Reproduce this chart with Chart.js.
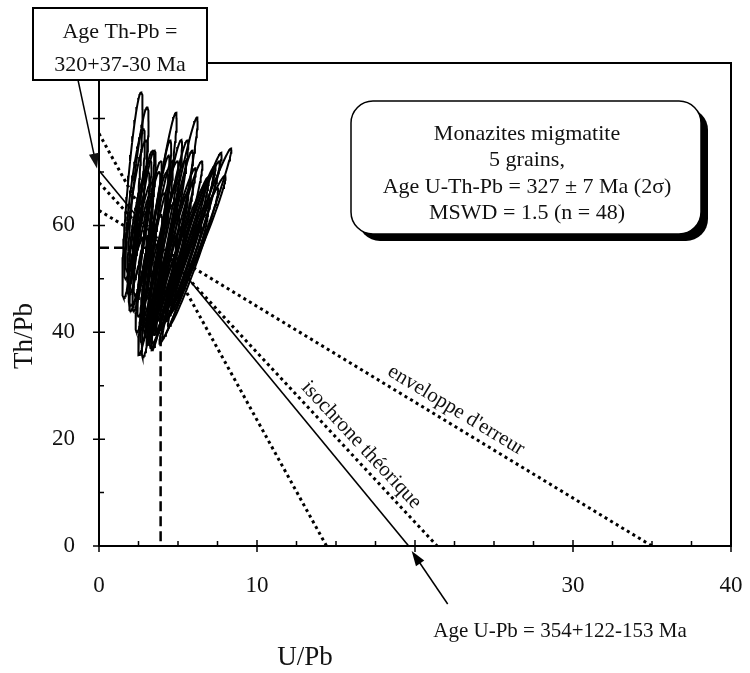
<!DOCTYPE html>
<html>
<head>
<meta charset="utf-8">
<script src="https://cdn.jsdelivr.net/npm/chart.js@4/dist/chart.umd.min.js"></script>
<style>
  html, body { margin: 0; padding: 0; background: #fff; }
  canvas { display: block; }
</style>
</head>
<body>
<canvas id="chart" width="750" height="673"></canvas>
<script>
// Data (U/Pb vs Th/Pb, 2 sigma error ellipses)

const uPb   = [2.12, 2.47, 2.37, 2.63, 2.25, 2.5, 3.7, 4.78, 3.64, 4.56, 4.02, 4.0, 4.45, 3.5, 4.15, 3.95, 4.75, 3.5,
               6.1, 5.89, 5.6, 5.2, 6.39, 5.25, 5.75, 5.2, 5.95, 4.7, 2.85, 3.1, 2.8, 3.2, 2.8, 3.55, 3.35, 4.5,
               5.4, 4.05, 2.45, 5.85, 5.7, 3.75, 4.4, 4.05, 2.65, 5.6, 4.2, 6.1];
const thPb  = [65.65, 65.45, 63.75, 62.6, 64, 58.5, 58.4, 58.4, 55.6, 54.15, 56.25, 53.5, 53.5, 56, 57, 54, 57, 56,
               56.15, 56.25, 55.8, 54.85, 57.65, 58, 55, 55, 54, 53.75, 59, 55, 56.5, 57.5, 62, 55.5, 51.5, 50,
               51.5, 47.5, 51.5, 54.5, 56, 56, 57.5, 60, 56, 56, 50, 58];
const errU  = [0.644, 0.669, 0.695, 0.695, 0.652, 0.695, 1.221, 1.463, 0.929, 1.56, 1.463, 1.059, 1.202, 0.873, 1.107, 0.828, 1.202, 0.695,
               2.277, 1.873, 1.775, 1.54, 1.618, 1.298, 1.298, 1.059, 1.589, 1.25, 0.738, 0.783, 0.61, 0.783, 0.695, 0.919, 0.652, 0.873,
               1.059, 0.828, 0.57, 1.012, 1.54, 0.919, 1.25, 0.966, 0.738, 1.346, 0.873, 1.54];
const errTh = [19.25, 16.65, 12.15, 9.5, 14, 11.5, 22.7, 21.8, 20.3, 16.55, 15.85, 14.5, 12.5, 14, 19, 10, 17, 10,
               18.25, 17.35, 15.4, 12.65, 11.65, 14, 10, 8, 13, 14.25, 15, 15, 9.5, 14.5, 12, 17.5, 10.5, 10,
               8.5, 10.5, 6.5, 7.5, 14, 16, 18.5, 12, 12, 13, 12, 14];
const rho   = [0.839, 0.852, 0.864, 0.864, 0.844, 0.864, 0.958, 0.971, 0.926, 0.974, 0.971, 0.944, 0.957, 0.916, 0.949, 0.906, 0.957, 0.864,
               0.988, 0.982, 0.98, 0.974, 0.976, 0.963, 0.963, 0.944, 0.975, 0.96, 0.88, 0.894, 0.819, 0.894, 0.864, 0.925, 0.844, 0.916,
               0.944, 0.906, 0.789, 0.938, 0.974, 0.925, 0.96, 0.932, 0.88, 0.966, 0.916, 0.974];

// theoretical isochron and error envelope (U/Pb, Th/Pb end points)
const isoU = [0, 19.6];
const isoTh = [70.3, 0];
const envSteepU = [0, 14.4];
const envSteepTh = [77.2, 0];
const envMidU = [0, 21.4];
const envMidTh = [68, 0];
const envFlatU = [0, 35];
const envFlatTh = [62.8, 0];

// dashed reference point
const refU = [0, 3.9, 3.9];
const refTh = [55.8, 55.8, 0];

// axes
const xTickLabels = [0, 10, 30, 40];
const yTickLabels = [0, 20, 40, 60];
const xMajor = [0, 10, 20, 30, 40];
const xMinor = [2.5, 5, 7.5, 12.5, 15, 17.5, 22.5, 25, 27.5, 32.5, 35, 37.5];
const yMajor = [0, 20, 40, 60, 80];
const yMinor = [10, 30, 50, 70];

const serif = '"Liberation Serif", "DejaVu Serif", serif';

// Building datasets

function ellipsePoints(i) {
    let pts = [];
    let k = Math.sqrt(1 - rho[i] * rho[i]);
    for (let s = 0; s <= 90; s++) {
        let t = s / 90 * Math.PI * 2;
        pts.push({
            x: uPb[i] + errU[i] * Math.cos(t),
            y: thPb[i] + errTh[i] * (rho[i] * Math.cos(t) + k * Math.sin(t))
        });
    }
    return pts;
}

function toPoints(xs, ys) {
    return xs.map((v, i) => ({x: v, y: ys[i]}));
}

const lineStyle = {showLine: true, pointRadius: 0, borderColor: '#000', fill: false, tension: 0};

let datasets = [
    Object.assign({data: toPoints(isoU, isoTh), borderWidth: 1.6}, lineStyle),
    Object.assign({data: toPoints(envSteepU, envSteepTh), borderWidth: 3, borderDash: [3, 3.5]}, lineStyle),
    Object.assign({data: toPoints(envMidU, envMidTh), borderWidth: 3, borderDash: [3, 3.5]}, lineStyle),
    Object.assign({data: toPoints(envFlatU, envFlatTh), borderWidth: 3, borderDash: [3, 3.5]}, lineStyle),
    Object.assign({data: toPoints(refU, refTh), borderWidth: 2.5, borderDash: [10, 5]}, lineStyle)
];

uPb.forEach((v, i) => {
    datasets.push(Object.assign({data: ellipsePoints(i), borderWidth: 2}, lineStyle));
});

// Drawing frame, ticks and annotations

function arrow(ctx, x1, y1, x2, y2) {
    let ang = Math.atan2(y2 - y1, x2 - x1);
    ctx.beginPath();
    ctx.moveTo(x1, y1);
    ctx.lineTo(x2 - 10 * Math.cos(ang), y2 - 10 * Math.sin(ang));
    ctx.lineWidth = 1.5;
    ctx.stroke();
    ctx.beginPath();
    ctx.moveTo(x2, y2);
    ctx.lineTo(x2 - 15 * Math.cos(ang) + 5 * Math.sin(ang), y2 - 15 * Math.sin(ang) - 5 * Math.cos(ang));
    ctx.lineTo(x2 - 15 * Math.cos(ang) - 5 * Math.sin(ang), y2 - 15 * Math.sin(ang) + 5 * Math.cos(ang));
    ctx.closePath();
    ctx.fill();
}

function roundRect(ctx, x, y, w, h, r) {
    ctx.beginPath();
    ctx.moveTo(x + r, y);
    ctx.arcTo(x + w, y, x + w, y + h, r);
    ctx.arcTo(x + w, y + h, x, y + h, r);
    ctx.arcTo(x, y + h, x, y, r);
    ctx.arcTo(x, y, x + w, y, r);
    ctx.closePath();
}

function alongLine(ctx, x, y, xs, ys, text, u, t) {
    let ang = Math.atan2(y.getPixelForValue(ys[1]) - y.getPixelForValue(ys[0]),
                         x.getPixelForValue(xs[1]) - x.getPixelForValue(xs[0]));
    ctx.save();
    ctx.translate(x.getPixelForValue(u), y.getPixelForValue(t));
    ctx.rotate(ang);
    ctx.fillText(text, 0, 0);
    ctx.restore();
}

const decor = {
    id: 'decor',
    afterDatasetsDraw(chart) {
        const {ctx, chartArea: a, scales: {x, y}} = chart;
        ctx.save();
        ctx.strokeStyle = '#000';
        ctx.fillStyle = '#000';

        // frame
        ctx.lineWidth = 2;
        ctx.strokeRect(a.left, a.top, a.right - a.left, a.bottom - a.top);

        // ticks
        ctx.lineWidth = 1.5;
        ctx.beginPath();
        xMajor.forEach(v => {
            let p = x.getPixelForValue(v);
            ctx.moveTo(p, a.bottom - 6); ctx.lineTo(p, a.bottom + 6);
        });
        xMinor.forEach(v => {
            let p = x.getPixelForValue(v);
            ctx.moveTo(p, a.bottom); ctx.lineTo(p, a.bottom - 5);
        });
        yMajor.forEach(v => {
            let p = y.getPixelForValue(v);
            ctx.moveTo(a.left - 6, p); ctx.lineTo(a.left + 6, p);
        });
        yMinor.forEach(v => {
            let p = y.getPixelForValue(v);
            ctx.moveTo(a.left, p); ctx.lineTo(a.left + 5, p);
        });
        ctx.stroke();

        // axis titles
        ctx.fillStyle = '#111';
        ctx.font = '27px ' + serif;
        ctx.textAlign = 'center';
        ctx.textBaseline = 'middle';
        ctx.fillText('U/Pb', 305, 658);
        ctx.save();
        ctx.translate(25, 336);
        ctx.rotate(-Math.PI / 2);
        ctx.fillText('Th/Pb', 0, 0);
        ctx.restore();

        // labels along lines
        ctx.font = '21px ' + serif;
        alongLine(ctx, x, y, envMidU, envMidTh, 'isochrone théorique', 16.6, 18.9);
        alongLine(ctx, x, y, envFlatU, envFlatTh, "enveloppe d'erreur", 22.6, 25.4);

        // Th-Pb age box
        ctx.fillStyle = '#fff';
        ctx.fillRect(33, 8, 174, 72);
        ctx.lineWidth = 2;
        ctx.strokeRect(33, 8, 174, 72);
        ctx.fillStyle = '#111';
        ctx.font = '22px ' + serif;
        ctx.fillText('Age Th-Pb =', 120, 32);
        ctx.fillText('320+37-30 Ma', 120, 65);
        arrow(ctx, 78, 80, x.getPixelForValue(0) - 2, y.getPixelForValue(isoTh[0]) - 2);

        // result box with shadow
        ctx.fillStyle = '#000';
        roundRect(ctx, 358, 108, 350, 133, 22);
        ctx.fill();
        ctx.fillStyle = '#fff';
        roundRect(ctx, 351, 101, 350, 133, 22);
        ctx.fill();
        ctx.lineWidth = 1.5;
        ctx.stroke();
        ctx.fillStyle = '#111';
        ctx.fillText('Monazites migmatite', 527, 134);
        ctx.fillText('5 grains,', 527, 160);
        ctx.fillText('Age U-Th-Pb = 327 \u00b1 7 Ma (2\u03c3)', 527, 187);
        ctx.fillText('MSWD = 1.5 (n = 48)', 527, 213);

        // U-Pb age arrow and label
        ctx.fillStyle = '#000';
        let tipX = x.getPixelForValue(isoU[1]) + 3;
        arrow(ctx, tipX + 36, a.bottom + 58, tipX, a.bottom + 5);
        ctx.fillStyle = '#111';
        ctx.font = '21px ' + serif;
        ctx.fillText('Age U-Pb = 354+122-153 Ma', 560, 631);

        ctx.restore();
    }
};

const myChart = new Chart(document.getElementById('chart'), {
    type: 'scatter',
    data: {datasets: datasets},
    options: {
        responsive: false,
        animation: false,
        devicePixelRatio: 1,
        events: [],
        layout: {padding: {top: 63, right: 19, left: 0, bottom: 0}},
        plugins: {legend: {display: false}, tooltip: {enabled: false}},
        scales: {
            x: {
                type: 'linear',
                min: 0,
                max: 40,
                grid: {display: false},
                border: {display: false},
                afterBuildTicks: (scale) => { scale.ticks = xTickLabels.map(v => ({value: v})); },
                afterFit: (scale) => {
                    scale.height = 127;
                    scale.paddingLeft = 0;
                    scale.paddingRight = 0;
                },
                ticks: {padding: 18, color: '#111', font: {family: serif, size: 23}}
            },
            y: {
                type: 'linear',
                min: 0,
                max: 90.4,
                grid: {display: false},
                border: {display: false},
                afterBuildTicks: (scale) => { scale.ticks = yTickLabels.map(v => ({value: v})); },
                afterFit: (scale) => {
                    scale.width = 99;
                    scale.paddingTop = 0;
                    scale.paddingBottom = 0;
                },
                ticks: {padding: 16, color: '#111', font: {family: serif, size: 23}}
            }
        }
    },
    plugins: [decor]
});
</script>
</body>
</html>
